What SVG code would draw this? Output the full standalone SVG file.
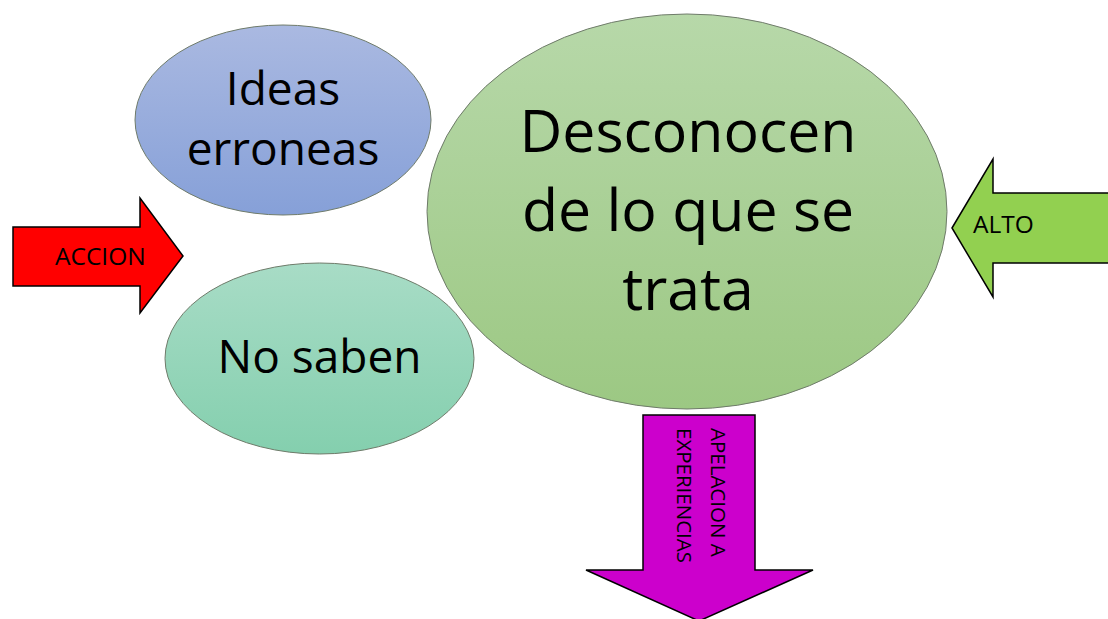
<svg xmlns="http://www.w3.org/2000/svg" width="1108" height="619" viewBox="0 0 1108 619">
<defs>
<linearGradient id="gBlue" x1="0" y1="0" x2="0" y2="1"><stop offset="0" stop-color="#aab9e1"/><stop offset="1" stop-color="#86a0d8"/></linearGradient>
<linearGradient id="gTeal" x1="0" y1="0" x2="0" y2="1"><stop offset="0" stop-color="#a8dcc6"/><stop offset="1" stop-color="#84cfae"/></linearGradient>
<linearGradient id="gGreen" x1="0" y1="0" x2="0" y2="1"><stop offset="0" stop-color="#b7d8a9"/><stop offset="1" stop-color="#9cc883"/></linearGradient>
<style>
.ell{stroke:#6f7b6a;stroke-width:1}
.arr{stroke:#000;stroke-width:1.5;stroke-linejoin:miter}
.big{font-family:"Open Sans","Liberation Sans",sans-serif;fill:#000;text-anchor:middle}
.lbl{font-family:"Open Sans","Liberation Sans",sans-serif;fill:#000}
</style>
</defs>
<rect width="1108" height="619" fill="#fff"/>
<g id="connectors">
<g id="arrow-accion">
<polygon class="arr" fill="#ff0000" points="13,227 140,227 140,198 183,256 140,313 140,286 13,286"/>
<text class="lbl" x="55" y="265" font-size="24.5">ACCION</text>
</g>
<g id="arrow-alto">
<polygon class="arr" fill="#92d050" points="952,228 993,159 993,193 1112,193 1112,263 993,263 993,297"/>
<text class="lbl" x="973" y="233" font-size="24.5">ALTO</text>
</g>
<g id="arrow-apelacion">
<polygon class="arr" fill="#cc00cc" points="643,415 755,415 755,570 813,570 699,621 586,570 643,570"/>
<text class="lbl" font-size="20.5" transform="translate(711,428) rotate(90)">APELACION A</text>
<text class="lbl" font-size="20.5" transform="translate(677,428) rotate(90)">EXPERIENCIAS</text>
</g>
</g>
<g id="node-ideas">
<ellipse class="ell" cx="283" cy="120" rx="148" ry="95" fill="url(#gBlue)"/>
<text class="big" x="283" y="105" font-size="46">Ideas</text>
<text class="big" x="283" y="165" font-size="46">erroneas</text>
</g>
<g id="node-nosaben">
<ellipse class="ell" cx="319.5" cy="358.5" rx="154.5" ry="95.5" fill="url(#gTeal)"/>
<text class="big" x="319.5" y="373" font-size="46">No saben</text>
</g>
<g id="node-desconocen">
<ellipse class="ell" cx="687" cy="211.5" rx="260" ry="197.5" fill="url(#gGreen)"/>
<text class="big" x="688" y="152" font-size="59">Desconocen</text>
<text class="big" x="688" y="231" font-size="59">de lo que se</text>
<text class="big" x="688" y="310" font-size="59">trata</text>
</g>
</svg>
